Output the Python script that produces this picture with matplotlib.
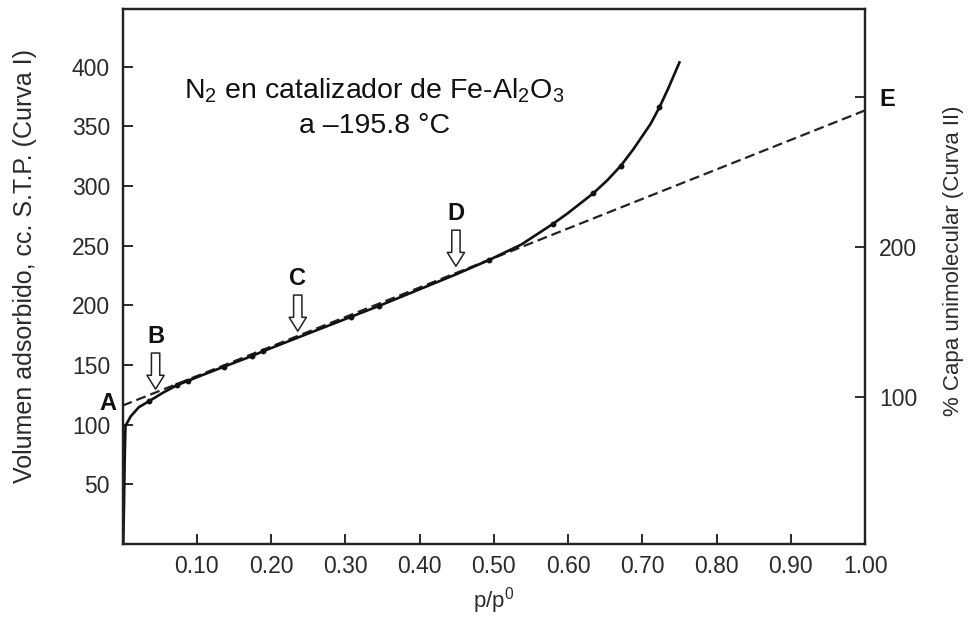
import matplotlib
matplotlib.use("Agg")
import matplotlib.pyplot as plt

plt.rcParams["font.family"] = ["Liberation Sans", "DejaVu Sans"]
plt.rcParams["mathtext.fontset"] = "custom"
plt.rcParams["mathtext.rm"] = "Liberation Sans"
plt.rcParams["mathtext.it"] = "Liberation Sans"

# isotherm (curve I)
curve_x = [0.001, 0.002, 0.003, 0.004, 0.011, 0.022, 0.038, 0.055, 0.073, 0.105,
           0.136, 0.174, 0.189, 0.24, 0.308, 0.345, 0.40, 0.449, 0.493, 0.537,
           0.580, 0.599, 0.634, 0.653, 0.671, 0.688, 0.711, 0.723, 0.735, 0.750]
curve_y = [0, 35, 75, 99, 107, 114.7, 120.6, 127, 133, 141,
           148.5, 157.5, 161.5, 174, 190.5, 199.5, 213.5, 226, 237.9, 251,
           268.5, 277, 294, 305, 317, 331, 352, 366, 382, 403.7]

# measured points on the curve
dots_x = [0.036, 0.073, 0.088, 0.136, 0.174, 0.189, 0.308, 0.345, 0.493, 0.580, 0.634, 0.671, 0.723]
dots_y = [119.8, 133, 136.5, 148.5, 157.5, 161.5, 190.5, 199.5, 237.9, 268.5, 294, 317, 366]

# extrapolated straight part, A -> E
line_x = [0.0, 1.0]
line_y = [116, 363.5]

# labelled points: letter and arrow tip
marks = ["B", "C", "D"]
mark_x = [0.0445, 0.236, 0.449]
mark_tip_y = [129.8, 178.4, 232.8]

xticks = [0.1, 0.2, 0.3, 0.4, 0.5, 0.6, 0.7, 0.8, 0.9, 1.0]
yticks = [50, 100, 150, 200, 250, 300, 350, 400]
right_ticks = [100, 200, 300]
right_labels = ["100", "200", "E"]

fig = plt.figure(figsize=(9.71, 6.2), dpi=100)
ax = fig.add_axes([0.1262, 0.1226, 0.7647, 0.8629])

ax.plot(line_x, line_y, color="#222222", lw=1.6, dashes=(4.5, 2.2), zorder=2)
ax.plot(curve_x, curve_y, color="#111111", lw=1.9, solid_joinstyle="round", zorder=3)
ax.plot(dots_x, dots_y, "o", color="#111111", ms=3.2, zorder=4)

ax.set_xlim(0, 1.0)
ax.set_ylim(0, 448.5)
ax.set_xticks(xticks)
ax.set_xticklabels(["%.2f" % v for v in xticks])
ax.set_yticks(yticks)
ax.tick_params(direction="in", length=7, width=1.4, labelsize=16.5, pad=8, colors="#2a2a2a")
ax.tick_params(axis="y", pad=9)
for s in ax.spines.values():
    s.set_linewidth(1.6)
    s.set_color("#222222")

ax.set_xlabel("p/p$^{\\mathregular{0}}$", fontsize=16, labelpad=5, color="#2a2a2a")
ax.set_ylabel("Volumen adsorbido, cc. S.T.P. (Curva I)", fontsize=18, color="#2a2a2a")
ax.yaxis.set_label_coords(-0.115, 0.52)

ax2 = ax.twinx()
ax2.set_ylim(2, 358.7)
ax2.set_yticks(right_ticks)
ax2.set_yticklabels(right_labels)
ax2.tick_params(direction="in", length=7, width=1.4, labelsize=16.5, pad=10, colors="#2a2a2a")
ax2.get_yticklabels()[2].set_fontweight("bold")
ax2.get_yticklabels()[2].set_fontsize(17)
ax2.get_yticklabels()[2].set_color("#111111")
ax2.set_ylabel("% Capa unimolecular (Curva II)", fontsize=16, color="#2a2a2a")
ax2.yaxis.set_label_coords(1.105, 0.53)
for s in ax2.spines.values():
    s.set_linewidth(1.6)
    s.set_color("#222222")

ax.text(-0.02, 118, "A", fontsize=17, fontweight="bold", ha="center", va="center", color="#111111")
for m, mx, my in zip(marks, mark_x, mark_tip_y):
    ax.annotate("", xy=(mx, my), xytext=(0, 26), textcoords="offset points",
                arrowprops=dict(arrowstyle="simple,head_length=0.5,head_width=0.62,tail_width=0.3",
                                fc="white", ec="#222222", lw=1.1, shrinkA=0, shrinkB=0,
                                mutation_scale=20))
    ax.annotate(m, xy=(mx, my), xytext=(0, 38), textcoords="offset points",
                fontsize=17, fontweight="bold", ha="center", va="center", color="#111111")

ax.text(0.339, 0.815, "N$_\\mathregular{2}$ en catalizador de Fe-Al$_\\mathregular{2}$O$_\\mathregular{3}$\na \u2013195.8 \u00b0C",
        transform=ax.transAxes, fontsize=20.5, ha="center", va="center",
        linespacing=1.4, color="#111111")

fig.savefig("out.png", dpi=100)
